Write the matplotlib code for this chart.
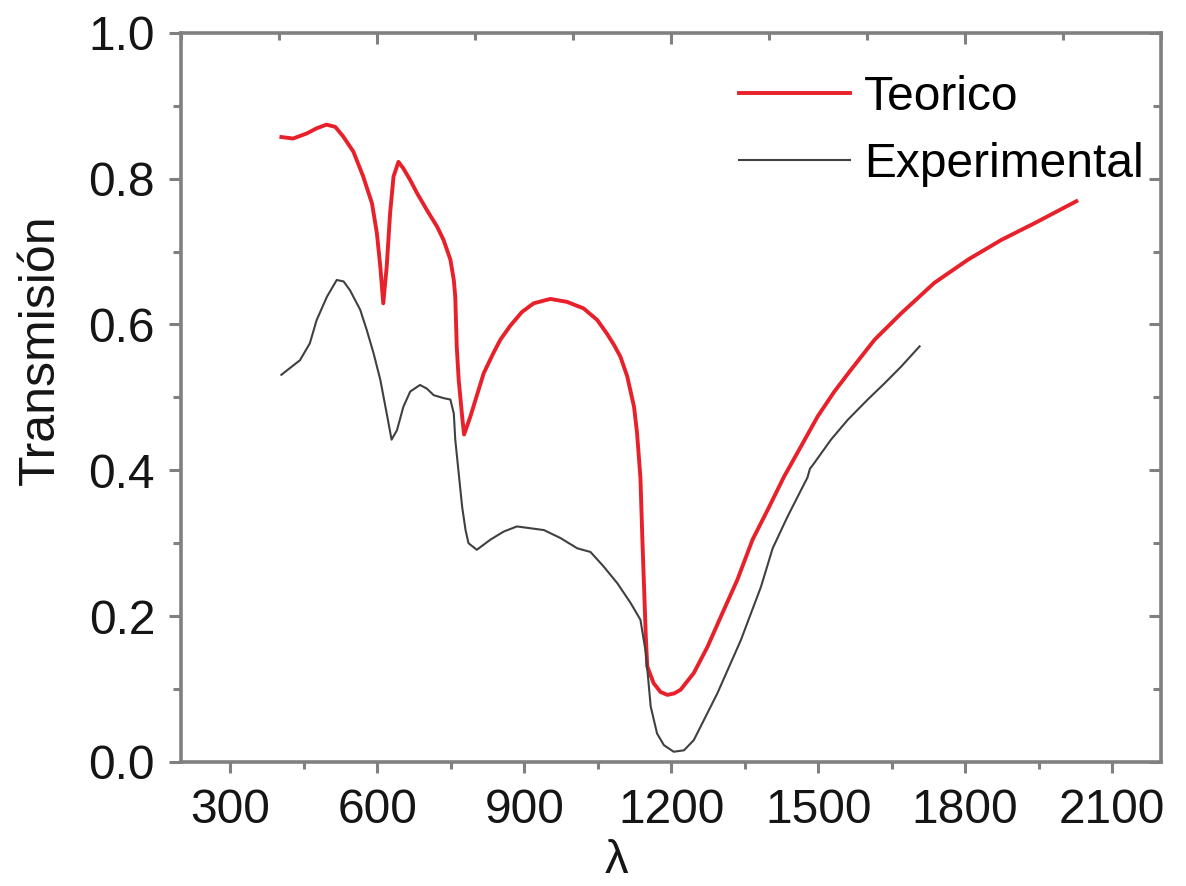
import matplotlib
matplotlib.use("Agg")
import matplotlib.pyplot as plt
from matplotlib.ticker import MultipleLocator

plt.rcParams['font.family'] = ['Liberation Sans', 'DejaVu Sans']

# Teorico (red)
lam_teo = [404, 428, 456, 476, 496, 514, 530, 551, 571, 589, 599, 606, 612, 619,
           626, 633, 643, 653, 667, 681, 701, 722, 735, 749, 756, 759, 762, 766,
           773, 777, 790, 817, 837, 851, 871, 895, 919, 953, 987, 1021, 1049,
           1069, 1083, 1096, 1110, 1124, 1130, 1137, 1141, 1148, 1151, 1164,
           1178, 1192, 1206, 1219, 1246, 1274, 1301, 1335, 1366, 1397, 1430,
           1465, 1499, 1533, 1567, 1615, 1669, 1737, 1806, 1874, 1942, 2027]
t_teo = [0.857, 0.855, 0.862, 0.869, 0.874, 0.871, 0.858, 0.837, 0.803, 0.766,
         0.725, 0.679, 0.629, 0.679, 0.753, 0.803, 0.823, 0.814, 0.798, 0.780,
         0.757, 0.734, 0.716, 0.689, 0.661, 0.638, 0.570, 0.524, 0.474, 0.449,
         0.474, 0.533, 0.561, 0.579, 0.598, 0.617, 0.629, 0.635, 0.631, 0.622,
         0.606, 0.587, 0.572, 0.556, 0.529, 0.487, 0.452, 0.390, 0.305, 0.172,
         0.131, 0.108, 0.096, 0.092, 0.094, 0.099, 0.122, 0.158, 0.199, 0.250,
         0.305, 0.346, 0.391, 0.433, 0.474, 0.508, 0.538, 0.579, 0.615, 0.657,
         0.689, 0.716, 0.739, 0.769]

# Experimental (gray)
lam_exp = [404, 442, 462, 476, 497, 517, 531, 544, 565, 578, 592, 606, 619, 629,
           640, 653, 667, 687, 701, 715, 735, 749, 756, 759, 766, 773, 780, 786,
           803, 831, 858, 885, 940, 974, 1008, 1035, 1062, 1090, 1117, 1137,
           1148, 1158, 1171, 1185, 1205, 1226, 1246, 1267, 1294, 1342, 1383,
           1407, 1437, 1465, 1478, 1483, 1492, 1526, 1560, 1601, 1635, 1669, 1707]
t_exp = [0.531, 0.551, 0.574, 0.606, 0.638, 0.661, 0.659, 0.647, 0.620, 0.593,
         0.561, 0.524, 0.478, 0.442, 0.455, 0.487, 0.508, 0.517, 0.512, 0.503,
         0.499, 0.497, 0.478, 0.442, 0.396, 0.350, 0.318, 0.300, 0.291, 0.305,
         0.316, 0.323, 0.318, 0.307, 0.293, 0.288, 0.268, 0.245, 0.218, 0.195,
         0.150, 0.076, 0.039, 0.023, 0.014, 0.016, 0.030, 0.058, 0.094, 0.167,
         0.240, 0.293, 0.336, 0.373, 0.390, 0.402, 0.410, 0.442, 0.469, 0.497,
         0.519, 0.542, 0.570]

fig = plt.figure(figsize=(11.86, 8.86), dpi=100)
ax = fig.add_axes([0.153, 0.140, 0.826, 0.823])

ax.plot(lam_teo, t_teo, color='#e8202a', lw=2.8, label='Teorico')
ax.plot(lam_exp, t_exp, color='#404040', lw=1.5, label='Experimental')

ax.set_xlim(200, 2200)
ax.set_ylim(0, 1.0)
ax.xaxis.set_major_locator(MultipleLocator(300))
ax.xaxis.set_minor_locator(MultipleLocator(150))
ax.yaxis.set_major_locator(MultipleLocator(0.2))
ax.yaxis.set_minor_locator(MultipleLocator(0.1))
ax.yaxis.set_major_formatter(plt.FormatStrFormatter('%.1f'))

spine_c = '#808080'
for s in ax.spines.values():
    s.set_color(spine_c)
    s.set_linewidth(2.6)

ax.tick_params(which='both', direction='out', color=spine_c, width=2.2,
               labelsize=34.5, labelcolor='#151515')
ax.tick_params(axis='x', which='major', length=8, pad=11)
ax.tick_params(axis='x', which='minor', length=5)
ax.tick_params(axis='y', which='major', length=9, pad=10)
ax.tick_params(axis='y', which='minor', length=6)

# mirrored ticks, pointing inward
top = ax.secondary_xaxis('top')
top.xaxis.set_major_locator(MultipleLocator(600))
top.xaxis.set_minor_locator(MultipleLocator(200))
top.tick_params(which='both', direction='in', color=spine_c, width=2.2, labeltop=False)
top.tick_params(which='major', length=8)
top.tick_params(which='minor', length=5)
top.spines['top'].set_visible(False)
right = ax.secondary_yaxis('right')
right.yaxis.set_major_locator(MultipleLocator(0.2))
right.yaxis.set_minor_locator(MultipleLocator(0.1))
right.tick_params(which='both', direction='in', color=spine_c, width=2.2, labelright=False)
right.tick_params(which='major', length=9)
right.tick_params(which='minor', length=6)
right.spines['right'].set_visible(False)

ax.set_xlabel('λ', fontsize=34, color='#151515')
ax.xaxis.set_label_coords(0.444, -0.105)
ax.set_ylabel('Transmisión', fontsize=36, color='#151515')
ax.yaxis.set_label_coords(-0.12, 0.565)

ax.legend(loc='upper left', bbox_to_anchor=(0.545, 0.975), frameon=False,
          fontsize=34.5, handlelength=2.3, handletextpad=0.3, labelspacing=0.45,
          borderpad=0)

fig.savefig('out.png', dpi=100)
